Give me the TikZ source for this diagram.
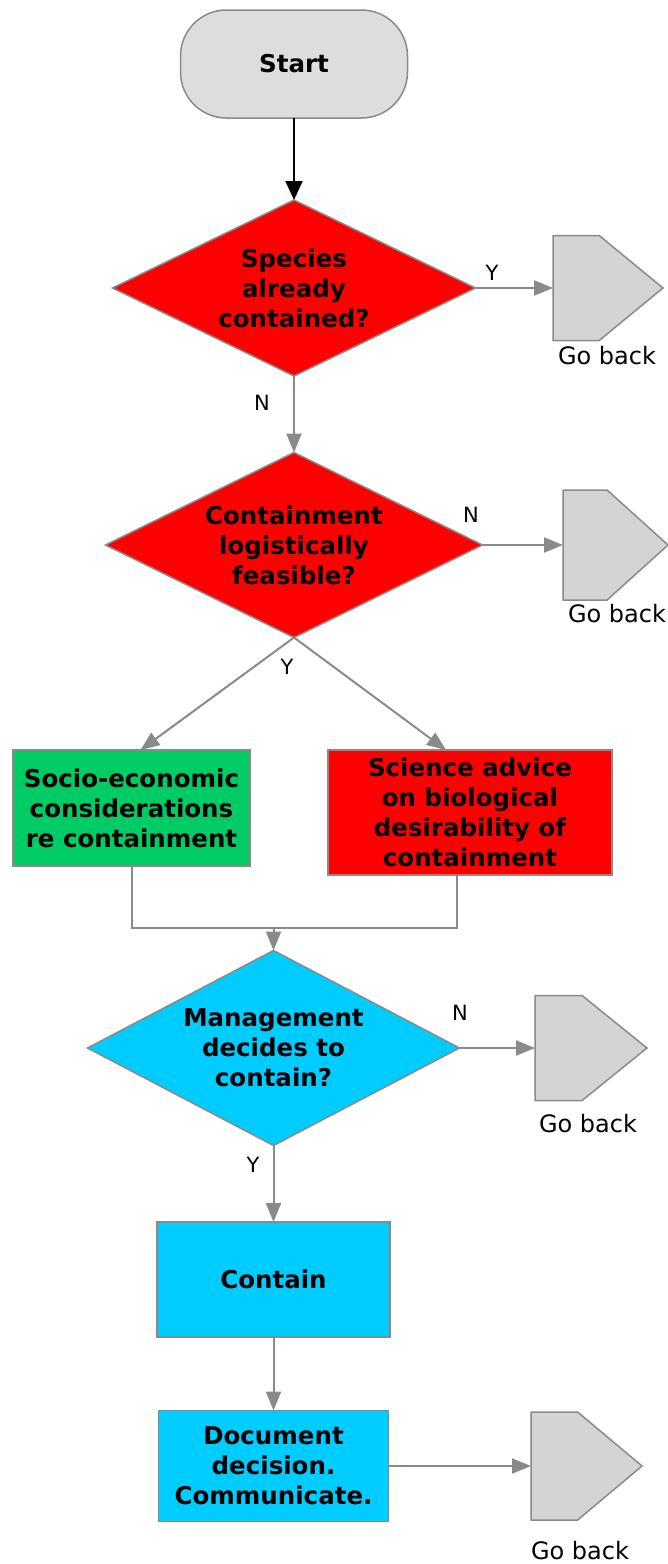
\documentclass[tikz,border=0pt]{standalone}
\usepackage{fontspec}
\setmainfont{DejaVu Sans}
\usetikzlibrary{shapes.geometric,arrows.meta,calc}
\definecolor{edgegrey}{HTML}{8A8A8A}
\definecolor{startfill}{HTML}{DDDDDD}
\definecolor{backfill}{HTML}{D4D4D4}
\definecolor{redfill}{HTML}{FF0000}
\definecolor{greenfill}{HTML}{00CC66}
\definecolor{cyanfill}{HTML}{00CCFF}
% pentagon "go back" marker drawn inside the bounds of a named node
\newcommand{\gobackshape}[1]{%
  \draw[draw=edgegrey, line width=1.5pt, fill=backfill, line join=miter]
    (#1.north west) -- ($(#1.north west)!0.42!(#1.north east)$) -- (#1.east)
    -- ($(#1.south west)!0.42!(#1.south east)$) -- (#1.south west) -- cycle;}
\begin{document}
\begin{tikzpicture}[x=1pt,y=-1pt,
  every node/.style={inner sep=0pt, outer sep=0pt},
  boxtext/.style={font=\fontsize{24.5}{30}\selectfont\bfseries, align=center},
  terminal/.style={draw=edgegrey, line width=1.5pt, fill=startfill, rounded corners=46pt, boxtext},
  decision/.style={diamond, draw=edgegrey, line width=1.5pt},
  process/.style={rectangle, draw=edgegrey, line width=1.5pt, boxtext},
  goback/.style={rectangle, minimum width=110pt, minimum height=106pt},
  backtext/.style={font=\fontsize{24}{28}\selectfont},
  yn/.style={font=\fontsize{21}{24}\selectfont},
  flow/.style={draw=edgegrey, line width=2pt, -{Triangle[length=19pt,width=15pt]}},
  joint/.style={draw=edgegrey, line width=2pt},
]
\useasboundingbox (0,0) rectangle (668,1564);

% shapes
\node[terminal, minimum width=227pt, minimum height=108pt] (start) at (294,64) {Start};

\node[decision, fill=redfill, minimum width=363pt, minimum height=176pt,
  label={[boxtext]center:Species\\already\\contained?}] (d1) at (294,288) {};
\node[goback, minimum width=110pt, minimum height=105pt] (gb1) at (608,288) {};
\gobackshape{gb1}
\node[backtext] (gbt1) at (607,356) {Go back};

\node[decision, fill=redfill, minimum width=377pt, minimum height=185pt,
  label={[boxtext]center:Containment\\logistically\\feasible?}] (d2) at (294,545) {};
\node[goback, minimum width=105pt, minimum height=110pt] (gb2) at (615.5,545) {};
\gobackshape{gb2}
\node[backtext] (gbt2) at (617,614) {Go back};

\node[process, fill=greenfill, minimum width=237pt, minimum height=116pt] (socio) at (131.5,808)
  {Socio-economic\\considerations\\re containment};
\node[process, fill=redfill, minimum width=284pt, minimum height=125pt] (science) at (470,812.5)
  {Science advice\\on biological\\desirability of\\containment};
\coordinate (merge) at (273.5,928);

\node[decision, fill=cyanfill, minimum width=372pt, minimum height=195pt,
  label={[boxtext]center:Management\\decides to\\contain?}] (d3) at (273.5,1048) {};
\node[goback, minimum width=112pt, minimum height=105pt] (gb3) at (591,1048) {};
\gobackshape{gb3}
\node[backtext] (gbt3) at (588,1124) {Go back};

\node[process, fill=cyanfill, minimum width=233pt, minimum height=115pt] (contain) at (273.5,1279.5) {Contain};
\node[process, fill=cyanfill, minimum width=230pt, minimum height=111pt] (doc) at (273.5,1466)
  {Document\\decision.\\Communicate.};
\node[goback, minimum width=111pt, minimum height=108pt] (gb4) at (586.5,1466) {};
\gobackshape{gb4}
\node[backtext] (gbt4) at (580,1551) {Go back};

% connectors
\draw[line width=2pt, -{Triangle[length=19pt,width=17pt]}] (start.south) -- (d1.north);
\draw[flow] (d1.east) -- (gb1.west);
\draw[flow] (d1.south) -- (d2.north);
\draw[flow] (d2.east) -- (gb2.west);
\draw[flow] (d2.south) -- ([xshift=9pt]socio.north);
\draw[flow] (d2.south) -- ([xshift=-24pt]science.north);
\draw[joint] (socio.south) |- (merge);
\draw[joint] ([xshift=-13pt]science.south) |- (merge);
\draw[flow] (merge) -- (d3.north);
\draw[flow] (d3.east) -- (gb3.west);
\draw[flow] (d3.south) -- (contain.north);
\draw[flow] (contain.south) -- (doc.north);
\draw[flow] (doc.east) -- (gb4.west);

% branch labels
\node[yn] (y1) at (492,273) {Y};
\node[yn] (n1) at (262,403) {N};
\node[yn] (n2) at (471,515) {N};
\node[yn] (y2) at (287,667) {Y};
\node[yn] (n3) at (460,1013) {N};
\node[yn] (y3) at (253,1165) {Y};
\end{tikzpicture}
\end{document}
